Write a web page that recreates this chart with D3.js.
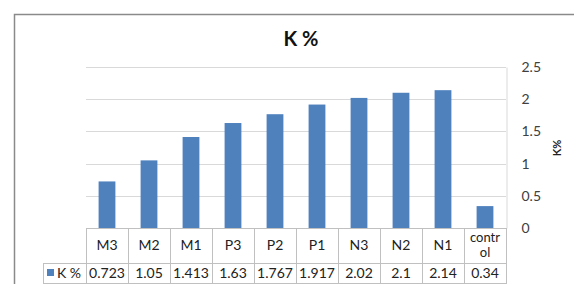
<!DOCTYPE html>
<html>
<meta charset="utf-8">
<style>
body { margin: 0; background: #fff; }
text { font-family: Lato, "Liberation Sans", sans-serif; }
</style>
<body>
<script src="https://d3js.org/d3.v7.min.js"></script>
<script>
// data
var categories = ["M3", "M2", "M1", "P3", "P2", "P1", "N3", "N2", "N1", "control"];
var values = [0.723, 1.05, 1.413, 1.63, 1.767, 1.917, 2.02, 2.1, 2.14, 0.34];
var valueLabels = ["0.723", "1.05", "1.413", "1.63", "1.767", "1.917", "2.02", "2.1", "2.14", "0.34"];
var yTicks = [0, 0.5, 1, 1.5, 2, 2.5];
var seriesName = "K %";

var W = 574, H = 284;
var plot = {left: 86, right: 506, top: 67, bottom: 228};
var rowCat = 263, rowEnd = 283.5;
var barColor = "#4f81bd", gridColor = "#d9d9d9", tableColor = "#c0c0c0";

var svg = d3.select("body").append("svg")
    .attr("width", W)
    .attr("height", H);

svg.append("rect").attr("width", W).attr("height", H).attr("fill", "#fff");

// outer chart border (cut by the picture edge)
svg.append("rect")
    .attr("x", 14.5).attr("y", 14.5)
    .attr("width", 620).attr("height", 320)
    .attr("fill", "none")
    .attr("stroke", "#8a8a8a")
    .attr("stroke-width", 1.5);

var x = d3.scaleBand().domain(categories)
    .range([plot.left, plot.right])
    .paddingInner(0.6).paddingOuter(0.3);

var y = d3.scaleLinear().domain([0, 2.5]).range([plot.bottom, plot.top]);

// gridlines
svg.append("g").selectAll("line")
    .data(yTicks.filter(function(d) { return d > 0; }))
  .enter().append("line")
    .attr("x1", plot.left).attr("x2", plot.right)
    .attr("y1", function(d) { return Math.round(y(d)) + 0.5; })
    .attr("y2", function(d) { return Math.round(y(d)) + 0.5; })
    .attr("stroke", gridColor);

// right axis
var axis = svg.append("g")
    .attr("transform", "translate(" + (plot.right + 0.5) + ",0)")
    .call(d3.axisRight(y).tickValues(yTicks).tickSize(0).tickPadding(15).tickFormat(d3.format("")));
axis.select(".domain").attr("stroke", gridColor);
axis.selectAll("text")
    .style("font-size", "14px")
    .attr("fill", "#404040");

// axis title
svg.append("text")
    .attr("transform", "translate(561,148) rotate(-90)")
    .attr("text-anchor", "middle")
    .style("font-size", "11px")
    .style("font-weight", "bold")
    .attr("fill", "#222")
    .text("K%");

// bars
svg.append("g").selectAll("rect")
    .data(values)
  .enter().append("rect")
    .attr("x", function(d, i) { return x(categories[i]); })
    .attr("width", x.bandwidth())
    .attr("y", function(d) { return y(d); })
    .attr("height", function(d) { return y(0) - y(d); })
    .attr("fill", barColor);

// title
svg.append("text")
    .attr("x", 301).attr("y", 46)
    .attr("text-anchor", "middle")
    .style("font-size", "20px")
    .style("font-weight", "bold")
    .attr("fill", "#111")
    .text("K %");

// data table
var step = x.step();
var table = svg.append("g")
    .attr("stroke", tableColor)
    .attr("shape-rendering", "crispEdges");

table.append("line").attr("x1", plot.left).attr("x2", plot.right).attr("y1", plot.bottom + 0.5).attr("y2", plot.bottom + 0.5);
table.append("line").attr("x1", 43).attr("x2", plot.right).attr("y1", rowCat + 0.5).attr("y2", rowCat + 0.5);
table.append("line").attr("x1", 43).attr("x2", plot.right).attr("y1", rowEnd).attr("y2", rowEnd);
table.append("line").attr("x1", 43.5).attr("x2", 43.5).attr("y1", rowCat).attr("y2", rowEnd);

table.selectAll(".vline")
    .data(d3.range(categories.length + 1))
  .enter().append("line")
    .attr("x1", function(i) { return Math.round(plot.left + i * step) + 0.5; })
    .attr("x2", function(i) { return Math.round(plot.left + i * step) + 0.5; })
    .attr("y1", plot.bottom).attr("y2", rowEnd);

// category labels; a long name wraps onto two lines as in the cell
var catLines = [];
categories.forEach(function(c) {
  var cx = x(c) + x.bandwidth() / 2;
  if (c.length > 5) {
    catLines.push({t: c.slice(0, 5), x: cx, y: 242, s: 13});
    catLines.push({t: c.slice(5), x: cx, y: 257, s: 13});
  } else {
    catLines.push({t: c, x: cx, y: 250, s: 14});
  }
});
svg.append("g").selectAll("text")
    .data(catLines)
  .enter().append("text")
    .attr("text-anchor", "middle")
    .style("font-size", function(d) { return d.s + "px"; })
    .attr("fill", "#222")
    .attr("x", function(d) { return d.x; })
    .attr("y", function(d) { return d.y; })
    .text(function(d) { return d.t; });

// value labels
svg.append("g").selectAll("text")
    .data(valueLabels)
  .enter().append("text")
    .attr("text-anchor", "middle")
    .style("font-size", "14px")
    .attr("fill", "#222")
    .attr("x", function(d, i) { return x(categories[i]) + x.bandwidth() / 2; })
    .attr("y", 278)
    .text(function(d) { return d; });

// legend key in table
svg.append("rect")
    .attr("x", 47).attr("y", 269)
    .attr("width", 7).attr("height", 7)
    .attr("fill", barColor);
svg.append("text")
    .attr("x", 57).attr("y", 278)
    .style("font-size", "14px")
    .attr("fill", "#222")
    .text(seriesName);
</script>
</body>
</html>
